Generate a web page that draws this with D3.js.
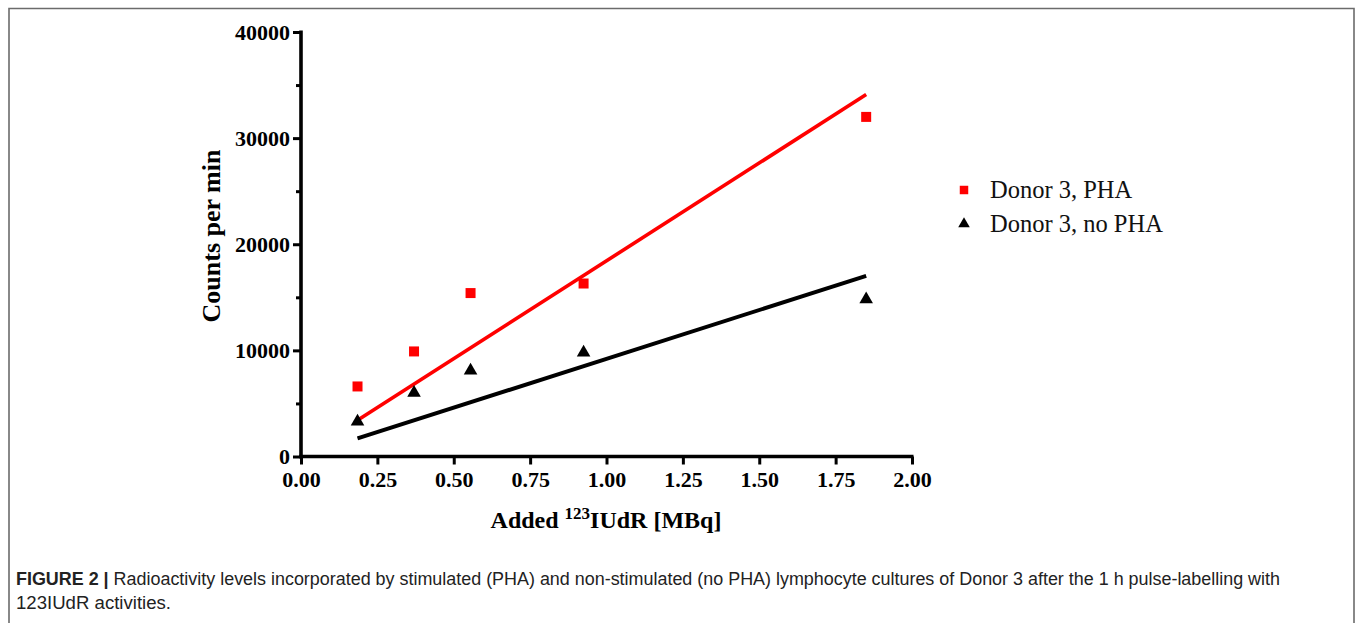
<!DOCTYPE html>
<html>
<head>
<meta charset="utf-8">
<script src="https://cdn.jsdelivr.net/npm/d3@7"></script>
<style>
  html, body { margin: 0; padding: 0; background: #fff; }
  svg { display: block; }
</style>
</head>
<body>
<svg id="chart" width="1355" height="623"></svg>
<script>
// ---- data ----
const activities = [0.185, 0.37, 0.555, 0.925, 1.85];           // MBq
const phaCounts = [6600, 9900, 15400, 16300, 32000];            // Donor 3, PHA
const noPhaCounts = [3300, 6000, 8100, 9800, 14800];            // Donor 3, no PHA
const xTicks = [0, 0.25, 0.5, 0.75, 1.0, 1.25, 1.5, 1.75, 2.0];
const yTicks = [0, 10000, 20000, 30000, 40000];
const yMinorTicks = [5000, 15000, 25000, 35000];
const seriesNames = ["Donor 3, PHA", "Donor 3, no PHA"];
const captionBold = "FIGURE 2 |";
const captionLines = [
  " Radioactivity levels incorporated by stimulated (PHA) and non-stimulated (no PHA) lymphocyte cultures of Donor 3 after the 1 h pulse-labelling with",
  "123IUdR activities."
];

// ---- layout ----
const svg = d3.select("#chart");
const x = d3.scaleLinear().domain([0, 2]).range([301, 912]);
const y = d3.scaleLinear().domain([0, 40000]).range([456.5, 32]);

// frame
svg.append("path")
  .attr("d", "M9,623 V8.5 H1354 V623")
  .attr("fill", "none").attr("stroke", "#6b6b6b").attr("stroke-width", 1.6);

const serif = "'Liberation Serif', 'Times New Roman', serif";

// regression through origin (fit lines)
function fitSlope(xs, ys) {
  const sxy = d3.sum(xs, (v, i) => v * ys[i]);
  const sxx = d3.sum(xs, v => v * v);
  return sxy / sxx;
}
const series = [
  { name: seriesNames[0], vals: phaCounts, color: "#ff0000", shape: "square" },
  { name: seriesNames[1], vals: noPhaCounts, color: "#000000", shape: "triangle" }
];

// axes
const yAxis = d3.axisLeft(y).tickValues(yTicks).tickSize(8).tickPadding(3).tickFormat(d3.format("d"));
const gy = svg.append("g").attr("transform", `translate(${x(0)},0)`).call(yAxis);
gy.select(".domain").attr("stroke-width", 3.6).attr("d", `M0,${y(0)+1.8}V${y(40000)-1.5}`);
gy.selectAll(".tick line").attr("stroke-width", 3);
gy.selectAll(".tick text").attr("font-family", serif).attr("font-weight", "bold").attr("font-size", 22).attr("fill", "#000");

const yMinor = d3.axisLeft(y).tickValues(yMinorTicks).tickSize(5).tickFormat("");
const gym = svg.append("g").attr("transform", `translate(${x(0)},0)`).call(yMinor);
gym.select(".domain").remove();
gym.selectAll(".tick line").attr("stroke-width", 3);

const xAxis = d3.axisBottom(x).tickValues(xTicks).tickSize(8).tickPadding(7).tickFormat(d3.format(".2f"));
const gx = svg.append("g").attr("transform", `translate(0,${y(0)})`).call(xAxis);
gx.select(".domain").attr("stroke-width", 3.6).attr("d", `M${x(0)-1.8},0H${x(2)+1.5}`);
gx.selectAll(".tick line").attr("stroke-width", 3);
gx.selectAll(".tick text").attr("font-family", serif).attr("font-weight", "bold").attr("font-size", 22).attr("fill", "#000");

// fit lines
series.forEach(s => {
  const k = fitSlope(activities, s.vals);
  const x0 = d3.min(activities), x1 = d3.max(activities);
  svg.append("line")
    .attr("x1", x(x0)).attr("y1", y(k * x0))
    .attr("x2", x(x1)).attr("y2", y(k * x1))
    .attr("stroke", s.color).attr("stroke-width", s.shape === "square" ? 3.6 : 4);
});

// markers
const sqSym = d3.symbol().type(d3.symbolSquare).size(100);
const triSym = d3.symbol().type(d3.symbolTriangle).size(80);
series.forEach(s => {
  svg.append("g").selectAll("path").data(activities).join("path")
    .attr("d", s.shape === "square" ? sqSym() : triSym())
    .attr("transform", (d, i) => `translate(${x(d)},${y(s.vals[i])})`)
    .attr("fill", s.color);
});

// axis titles
svg.append("text")
  .attr("transform", `translate(220,236) rotate(-90)`)
  .attr("text-anchor", "middle")
  .attr("font-family", serif).attr("font-weight", "bold").attr("font-size", 26)
  .text("Counts per min");

const xt = svg.append("text")
  .attr("x", 606).attr("y", 528)
  .attr("text-anchor", "middle")
  .attr("font-family", serif).attr("font-weight", "bold").attr("font-size", 24);
xt.append("tspan").text("Added ");
xt.append("tspan").attr("dy", -9).attr("font-size", 17).text("123");
xt.append("tspan").attr("dy", 9).text("IUdR [MBq]");

// legend
const lg = svg.append("g");
series.forEach((s, i) => {
  const ly = 190 + i * 34;
  lg.append("path")
    .attr("d", s.shape === "square" ? d3.symbol().type(d3.symbolSquare).size(72)() : d3.symbol().type(d3.symbolTriangle).size(58)())
    .attr("transform", `translate(964,${ly})`)
    .attr("fill", s.color);
  lg.append("text")
    .attr("x", 990).attr("y", ly + 8)
    .attr("font-family", serif).attr("font-size", 24.5).attr("fill", "#111")
    .text(s.name);
});

// caption
const sans = "'Liberation Sans', Arial, Helvetica, sans-serif";
const c1 = svg.append("text").attr("x", 16).attr("y", 585)
  .attr("font-family", sans).attr("font-size", 17.5).attr("fill", "#222")
  .attr("textLength", 1264).attr("lengthAdjust", "spacingAndGlyphs");
c1.append("tspan").attr("font-weight", "bold").text(captionBold);
c1.append("tspan").text(captionLines[0]);
svg.append("text").attr("x", 16).attr("y", 609)
  .attr("font-family", sans).attr("font-size", 17.5).attr("fill", "#222")
  .attr("textLength", 155).attr("lengthAdjust", "spacingAndGlyphs")
  .text(captionLines[1]);
</script>
</body>
</html>
